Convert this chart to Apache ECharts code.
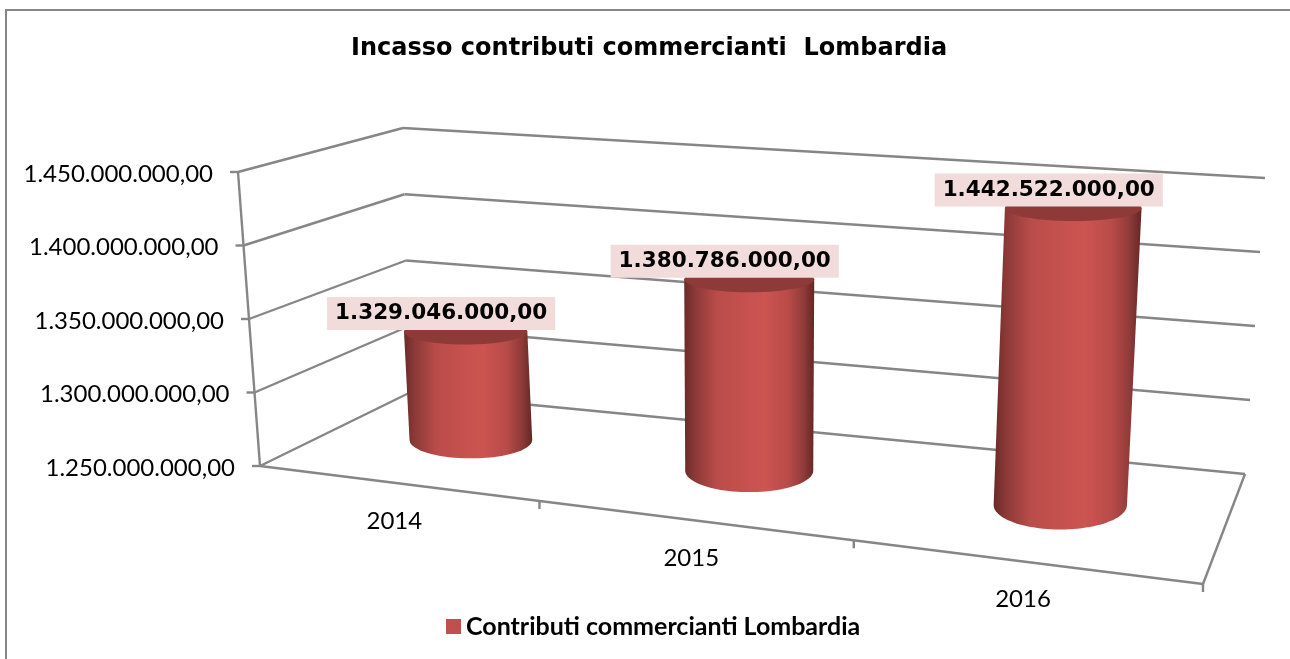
<!DOCTYPE html>
<html>
<head>
<meta charset="utf-8">
<title>Incasso contributi commercianti Lombardia</title>
<style>
html, body { margin: 0; padding: 0; background: #fff; }
#chart { width: 1290px; height: 659px; }
</style>
<script src="https://cdn.jsdelivr.net/npm/echarts@6/dist/echarts.min.js"></script>
</head>
<body>
<div id="chart"></div>
<script>
var titleText = 'Incasso contributi commercianti  Lombardia';
var seriesName = 'Contributi commercianti Lombardia';
var years = ['2014', '2015', '2016'];
var values = [1329046000, 1380786000, 1442522000];
var yTicks = [1250000000, 1300000000, 1350000000, 1400000000, 1450000000];

var W = 1290, H = 659;
var AXIS_FONT = 'Lato, "Open Sans", sans-serif';
var BOLD_FONT = '"DejaVu Sans", sans-serif';
var LINE = '#868686';

// corners of the drawn box, the picture is an oblique perspective view
var FL = [260, 466], FR = [1203, 584], BR = [1245, 474], BL = [409, 393];
var FLt = [238, 172], FRt = [1228, 246], BRt = [1265, 178], BLt = [403, 128];
var SKEW = 0.1665, BAR_DEPTH = 0.55;

function lerp(a, b, t) {
    return [a[0] + (b[0] - a[0]) * t, a[1] + (b[1] - a[1]) * t];
}
// u, v come from the axes (0..1 inside the grid), d is the depth 0 front .. 1 back
function project(u, v, d) {
    var t = u * (1 - SKEW * (1 - u));
    var floor = lerp(lerp(FL, FR, t), lerp(BL, BR, t), d);
    var top = lerp(lerp(FLt, FRt, t), lerp(BLt, BRt, t), d);
    return lerp(floor, top, v);
}
function toUV(pt) {
    return [pt[0] / W, 1 - pt[1] / H];
}
function seg(a, b) {
    return {
        type: 'line',
        shape: { x1: a[0], y1: a[1], x2: b[0], y2: b[1] },
        style: { stroke: LINE, lineWidth: 2.4, fill: null }
    };
}

function renderWalls(params, api) {
    var v = toUV(api.coord([0, api.value(0)]))[1];
    var front = project(0, v, 0), back = project(0, v, 1), right = project(1, v, 1);
    var kids = [
        seg(front, back),
        seg(back, right),
        seg(front, [front[0] - 8, front[1]]),
        {
            type: 'text',
            style: {
                x: front[0] - 25, y: front[1] + 2,
                text: api.value(1),
                font: '24px ' + AXIS_FONT,
                fill: '#000', align: 'right', verticalAlign: 'middle'
            }
        }
    ];
    if (params.dataIndex === 0) {
        kids.push(seg(front, project(0, 1, 0)));
        kids.push(seg(front, project(1, 0, 0)));
        kids.push(seg(project(1, 0, 0), right));
    }
    return { type: 'group', children: kids };
}

function renderFloorTicks(params, api) {
    var c = toUV(api.coord([params.dataIndex, yTicks[0]]));
    var band = api.size([1, 0])[0] / W;
    var mid = project(c[0], 0, 0);
    var edge = project(c[0] + band / 2, 0, 0);
    return {
        type: 'group',
        children: [
            seg(edge, [edge[0], edge[1] + 8]),
            {
                type: 'text',
                style: {
                    x: mid[0] - 1, y: mid[1] + 38,
                    text: api.value(0),
                    font: '24px ' + AXIS_FONT,
                    fill: '#000', align: 'center', verticalAlign: 'middle'
                }
            }
        ]
    };
}

function barSize(t) {
    return { rxTop: 60 + 10 * t, rxBot: 60 + 8 * t, ryTop: 13, ryBot: 17 + 9 * t };
}

// top of the cylinder, the excel view sits a few px off the plain box mapping
function barTop(u, v) {
    var p = project(u, v, BAR_DEPTH);
    return [p[0], p[1] + 4.5 - 6 * u];
}

function renderBar(params, api) {
    var i = params.dataIndex;
    var c = toUV(api.coord([i, api.value(1)]));
    var base = project(c[0], 0, BAR_DEPTH);
    var top = barTop(c[0], c[1]);
    var s = barSize(c[0]);
    var pts = [[top[0] - s.rxTop, top[1]]];
    for (var a = 0; a <= 48; a++) {
        var ang = Math.PI - Math.PI * a / 48;
        pts.push([base[0] + 2 + s.rxBot * Math.cos(ang), base[1] + s.ryBot * Math.sin(ang)]);
    }
    pts.push([top[0] + s.rxTop, top[1]]);
    return {
        type: 'group',
        children: [
            {
                type: 'polygon',
                shape: { points: pts },
                style: {
                    fill: new echarts.graphic.LinearGradient(0, 0, 1, 0, [
                        { offset: 0, color: '#6a2a28' },
                        { offset: 0.08, color: '#8a3937' },
                        { offset: 0.25, color: '#b94c49' },
                        { offset: 0.45, color: '#c5514e' },
                        { offset: 0.62, color: '#cc5451' },
                        { offset: 0.8, color: '#b84b48' },
                        { offset: 0.92, color: '#8e3b39' },
                        { offset: 1, color: '#632725' }
                    ])
                }
            },
            {
                type: 'ellipse',
                shape: { cx: top[0], cy: top[1], rx: s.rxTop, ry: s.ryTop },
                style: { fill: '#8d3a38' }
            }
        ]
    };
}

function formatIt(n) {
    return String(n).replace(/\B(?=(\d{3})+$)/g, '.') + ',00';
}

function renderLabel(params, api) {
    var c = toUV(api.coord([params.dataIndex, api.value(1)]));
    var top = barTop(c[0], c[1]);
    return {
        type: 'text',
        style: {
            x: top[0] - 24.5, y: top[1] - 18,
            text: formatIt(api.value(1)),
            font: 'bold 21.5px ' + BOLD_FONT,
            fill: '#000', align: 'center', verticalAlign: 'middle',
            backgroundColor: '#f2dcdb',
            padding: [6, 8, 5, 8]
        }
    };
}

var chart = echarts.init(document.getElementById('chart'));
chart.setOption({
    backgroundColor: '#fff',
    animation: false,
    title: {
        text: titleText,
        left: 346, top: 32,
        textStyle: { fontFamily: BOLD_FONT, fontWeight: 'bold', fontSize: 24, color: '#000' }
    },
    legend: {
        data: [seriesName],
        left: 441, top: 609,
        icon: 'rect', itemWidth: 15, itemHeight: 15, itemGap: 6,
        textStyle: { fontFamily: AXIS_FONT, fontWeight: 'bold', fontSize: 25, color: '#000' }
    },
    graphic: [{
        type: 'rect',
        silent: true,
        shape: { x: 6, y: 10, width: 1400, height: 800 },
        style: { fill: null, stroke: LINE, lineWidth: 2 }
    }],
    grid: { left: 0, right: 0, top: 0, bottom: 0 },
    xAxis: { type: 'category', data: years, show: false },
    yAxis: { type: 'value', min: 1250000000, max: 1450000000, interval: 50000000, show: false },
    series: [
        {
            type: 'custom', name: 'walls', z: 1, silent: true,
            clip: false,
            renderItem: renderWalls,
            data: yTicks.map(function (t) {
                return [t, formatIt(t)];
            }),
            encode: { x: -1, y: 0 }
        },
        {
            type: 'custom', name: 'floor', z: 1, silent: true,
            clip: false,
            renderItem: renderFloorTicks,
            data: years.map(function (y) { return [y]; }),
            encode: { x: -1, y: -1 }
        },
        {
            type: 'custom', name: seriesName, z: 2,
            clip: false,
            itemStyle: { color: '#c0504d' },
            renderItem: renderBar,
            data: values.map(function (v, i) { return [years[i], v]; }),
            encode: { x: 0, y: 1 }
        },
        {
            type: 'custom', name: 'labels', z: 3, silent: true,
            clip: false,
            renderItem: renderLabel,
            data: values.map(function (v, i) { return [years[i], v]; }),
            encode: { x: 0, y: 1 }
        }
    ]
});
</script>
</body>
</html>
